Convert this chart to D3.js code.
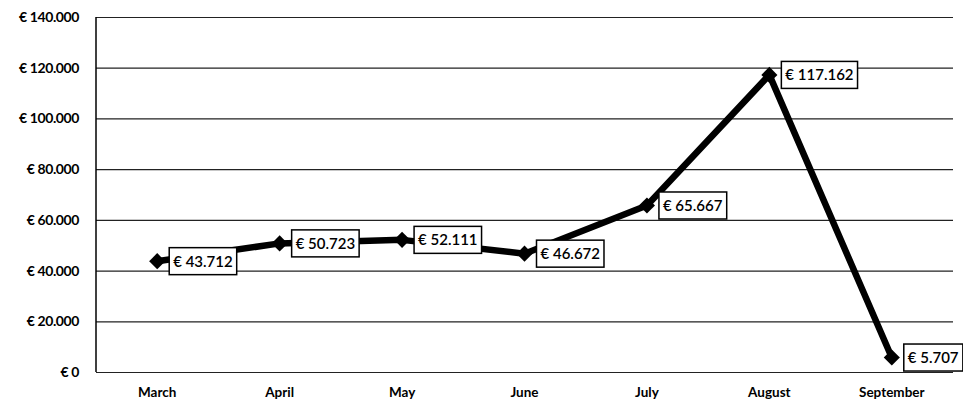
<!DOCTYPE html>
<html>
<head>
<meta charset="utf-8">
<script src="https://cdn.jsdelivr.net/npm/d3@7"></script>
<style>
  body { margin: 0; background: #fff; }
  text { font-family: Lato, "Open Sans", sans-serif; font-weight: bold; fill: #000; }
</style>
</head>
<body>
<div id="viz"></div>
<script>
// Monthly values
var months = ["March", "April", "May", "June", "July", "August", "September"]
var revenue = [43712, 50723, 52111, 46672, 65667, 117162, 5707]
var yTicks = [0, 20000, 40000, 60000, 80000, 100000, 120000, 140000]

var width = 963, height = 406
var margin = {top: 17, right: 10, bottom: 34, left: 96}

// euro format with a dot as thousands separator
var euro = d3.formatLocale({decimal: ",", thousands: ".", grouping: [3], currency: ["€ ", ""]})
    .format("$,.0f")

var svg = d3.select("#viz")
    .append("svg")
    .attr("width", width)
    .attr("height", height)

var x = d3.scaleBand()
    .domain(months)
    .range([margin.left, width - margin.right])

var y = d3.scaleLinear()
    .domain([0, 140000])
    .range([height - margin.bottom, margin.top])

// horizontal gridlines + y labels
svg.append("g")
    .attr("transform", "translate(" + margin.left + ",0)")
    .call(d3.axisLeft(y).tickValues(yTicks).tickFormat(euro)
        .tickSize(-(width - margin.left - margin.right)).tickPadding(17))
    .call(g => g.select(".domain").remove())
    .call(g => g.selectAll(".tick line").attr("stroke", "#222").attr("stroke-width", 1.2))
    .call(g => g.selectAll(".tick text").style("font-size", "14px").style("letter-spacing", "-0.4px"))

// left axis line
svg.append("line")
    .attr("x1", margin.left).attr("x2", margin.left)
    .attr("y1", y(140000)).attr("y2", y(0))
    .attr("stroke", "#000")
    .attr("stroke-width", 1.5)

// month labels
svg.append("g")
    .attr("transform", "translate(0," + y(0) + ")")
    .call(d3.axisBottom(x).tickSize(0).tickPadding(15))
    .call(g => g.select(".domain").remove())
    .call(g => g.selectAll(".tick text").style("font-size", "13.5px"))

var cx = d => x(d) + x.bandwidth() / 2

// the line itself
svg.append("path")
    .datum(revenue)
    .attr("fill", "none")
    .attr("stroke", "#000")
    .attr("stroke-width", 6.5)
    .attr("stroke-linejoin", "round")
    .attr("d", d3.line().x((d, i) => cx(months[i])).y(d => y(d)))

// diamond markers
svg.selectAll(".marker")
    .data(revenue)
    .enter()
    .append("path")
    .attr("class", "marker")
    .attr("d", d3.symbol().type(d3.symbolSquare).size(130))
    .attr("transform", (d, i) => "translate(" + cx(months[i]) + "," + y(d) + ") rotate(45)")
    .attr("fill", "#000")

// boxed data labels, right of each marker
var labelG = svg.selectAll(".lbl")
    .data(revenue)
    .enter()
    .append("g")
    .attr("class", "lbl")
    .attr("transform", (d, i) => "translate(" + (cx(months[i]) + 12) + "," + y(d) + ")")

labelG.append("rect")
    .attr("fill", "#fff")
    .attr("stroke", "#000")
    .attr("stroke-width", 1.5)

labelG.append("text")
    .attr("x", 4)
    .attr("dy", "0.36em")
    .style("font-size", "15px")
    .style("font-weight", "600")
    .text(d => euro(d))

labelG.each(function() {
    var t = d3.select(this).select("text").node().getBBox()
    d3.select(this).select("rect")
        .attr("x", 0)
        .attr("y", -13.5)
        .attr("width", t.width + 8)
        .attr("height", 27)
})
</script>
</body>
</html>
